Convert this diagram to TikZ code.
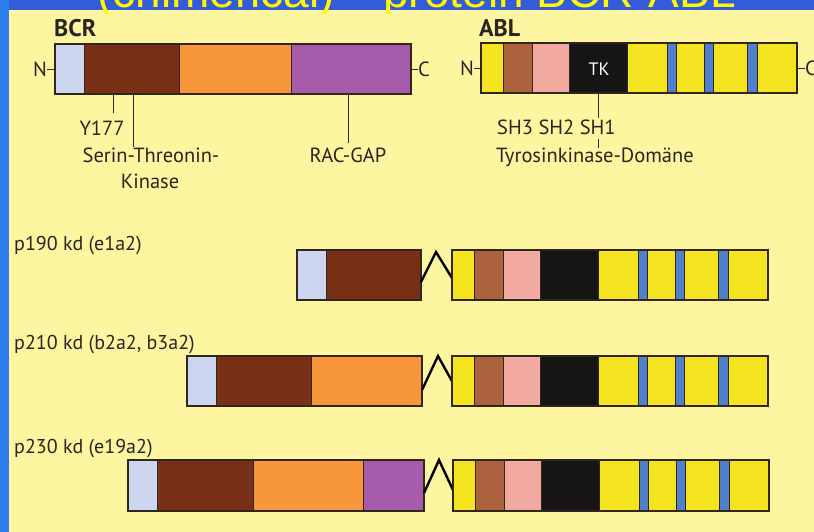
\documentclass[tikz,border=0pt]{standalone}
\usepackage{fontspec}
\setmainfont{PT Sans}
\newfontfamily\titlefont{Liberation Sans}
\definecolor{bgyellow}{RGB}{254,245,160}
\definecolor{frameblue}{RGB}{52,92,216}
\definecolor{sideblue}{RGB}{45,125,235}
\definecolor{titleyellow}{RGB}{255,250,0}
\definecolor{lblue}{RGB}{204,214,240}
\definecolor{bbrown}{RGB}{120,48,22}
\definecolor{borange}{RGB}{248,150,60}
\definecolor{bpurple}{RGB}{166,92,170}
\definecolor{ayellow}{RGB}{244,228,32}
\definecolor{abrown}{RGB}{172,98,60}
\definecolor{apink}{RGB}{242,170,160}
\definecolor{ablack}{RGB}{22,20,20}
\definecolor{astripe}{RGB}{78,128,204}
\definecolor{barline}{RGB}{50,38,28}
\definecolor{labeltext}{RGB}{40,36,30}
\newcommand{\ablfused}[3]{%
  \begin{scope}[xshift=#1pt]
    \fill[ayellow] (0,#2) rectangle (316,#3);
    \fill[abrown] (22,#2) rectangle (51,#3);
    \fill[apink] (51,#2) rectangle (88,#3);
    \fill[ablack] (88,#2) rectangle (146,#3);
    \filldraw[fill=astripe,seg] (186,#2) rectangle (195,#3);
    \filldraw[fill=astripe,seg] (223,#2) rectangle (232,#3);
    \filldraw[fill=astripe,seg] (266,#2) rectangle (276,#3);
    \draw[seg] (22,#2) -- (22,#3) (51,#2) -- (51,#3) (88,#2) -- (88,#3) (146,#2) -- (146,#3);
    \draw[outline] (0,#2) rectangle (316,#3);
  \end{scope}}
\begin{document}
\begin{tikzpicture}[x=1pt,y=-1pt,
  seg/.style={draw=barline,line width=0.9pt},
  outline/.style={draw=barline,line width=1.4pt},
  lbl/.style={font=\fontsize{20.5}{22}\selectfont,text=labeltext,inner sep=0pt},
  rowlbl/.style={font=\fontsize{20}{22}\selectfont,text=labeltext,inner sep=0pt,anchor=base west},
  head/.style={font=\bfseries\fontsize{24}{26}\selectfont,text=labeltext,inner sep=0pt,anchor=base west},
  titletext/.style={text=titleyellow,font=\titlefont\fontsize{46}{50}\selectfont,inner sep=0pt},
  leader/.style={draw=labeltext,line width=0.9pt},
  caret/.style={draw=black,line width=2.4pt,line join=miter}]
\useasboundingbox (0,0) rectangle (814,532);
\fill[bgyellow] (0,0) rectangle (814,532);
\fill[frameblue] (0,0) rectangle (814,10);
\fill[sideblue] (0,0) rectangle (9,532);
\begin{scope}
  \clip (9,0) rectangle (814,14);
  \node[titletext,anchor=base east] (t1) at (335,8) {(chimerical)};
  \node[titletext,anchor=base west] (t2) at (383,8) {protein BCR-ABL};
\end{scope}

% ---------- BCR ----------
\node[head] (bcr) at (54,37) {BCR};
\fill[lblue] (55,44) rectangle (84,94);
\fill[bbrown] (84,44) rectangle (179,94);
\fill[borange] (179,44) rectangle (291,94);
\fill[bpurple] (291,44) rectangle (411,94);
\draw[seg] (84,44) -- (84,94) (179,44) -- (179,94) (291,44) -- (291,94);
\draw[outline] (55,44) rectangle (411,94);
\node[lbl,anchor=east] (bn) at (47,69) {N};
\draw[leader] (bn.east) -- (55,69);
\node[lbl,anchor=west] (bc) at (418,69) {C};
\draw[leader] (411,69) -- (bc.west);

\coordinate (y1) at (113,94);
\node[lbl,anchor=base] (y177) at (102,136) {Y177};
\draw[leader] (y1) -- (113,113);
\coordinate (s1) at (133,94);
\node[lbl,anchor=base] (ser) at (151,163) {Serin-Threonin-};
\node[lbl,anchor=base] (kin) at (150,189) {Kinase};
\draw[leader] (s1) -- (133,147);
\coordinate (r1) at (348,94);
\node[lbl,anchor=base] (rac) at (348,163) {RAC-GAP};
\draw[leader] (r1) -- (348,143);

% ---------- ABL ----------
\node[head] (abl) at (479,37) {ABL};
\ablfused{481}{43}{93}
\node[lbl,anchor=east] (an) at (474,68) {N};
\draw[leader] (an.east) -- (481,68);
\node[lbl,anchor=west] (ac) at (805,68) {C};
\draw[leader] (797,68) -- (ac.west);
\node[lbl,anchor=center,text=white,font=\fontsize{18}{20}\selectfont] (tk) at (599,69) {TK};
\coordinate (k1) at (598,93);
\node[lbl,anchor=base west] (sh) at (497,135) {SH3 SH2 SH1};
\draw[leader] (k1) -- (598,118);
\draw[leader] (598,139) -- (598,148);
\node[lbl,anchor=base west] (tyr) at (496,163) {Tyrosinkinase-Domäne};

% ---------- p190 ----------
\node[rowlbl] (p190) at (14,250) {p190 kd (e1a2)};
\fill[lblue] (297,250) rectangle (326,300);
\fill[bbrown] (326,250) rectangle (421,300);
\draw[seg] (326,250) -- (326,300);
\draw[outline] (297,250) rectangle (421,300);
\draw[caret] (421,282) -- (436,252) -- (452,278);
\ablfused{452}{250}{300}

% ---------- p210 ----------
\node[rowlbl] (p210) at (14,349) {p210 kd (b2a2, b3a2)};
\fill[lblue] (187,356) rectangle (216,406);
\fill[bbrown] (216,356) rectangle (311,406);
\fill[borange] (311,356) rectangle (422,406);
\draw[seg] (216,356) -- (216,406) (311,356) -- (311,406);
\draw[outline] (187,356) rectangle (422,406);
\draw[caret] (422,390) -- (438,356) -- (453,383);
\ablfused{452}{356}{406}

% ---------- p230 ----------
\node[rowlbl] (p230) at (14,453) {p230 kd (e19a2)};
\fill[lblue] (128,460) rectangle (157,511);
\fill[bbrown] (157,460) rectangle (253,511);
\fill[borange] (253,460) rectangle (363,511);
\fill[bpurple] (363,460) rectangle (424,511);
\draw[seg] (157,460) -- (157,511) (253,460) -- (253,511) (363,460) -- (363,511);
\draw[outline] (128,460) rectangle (424,511);
\draw[caret] (424,493) -- (439,460) -- (453,490);
\ablfused{453}{460}{511}
\end{tikzpicture}
\end{document}
